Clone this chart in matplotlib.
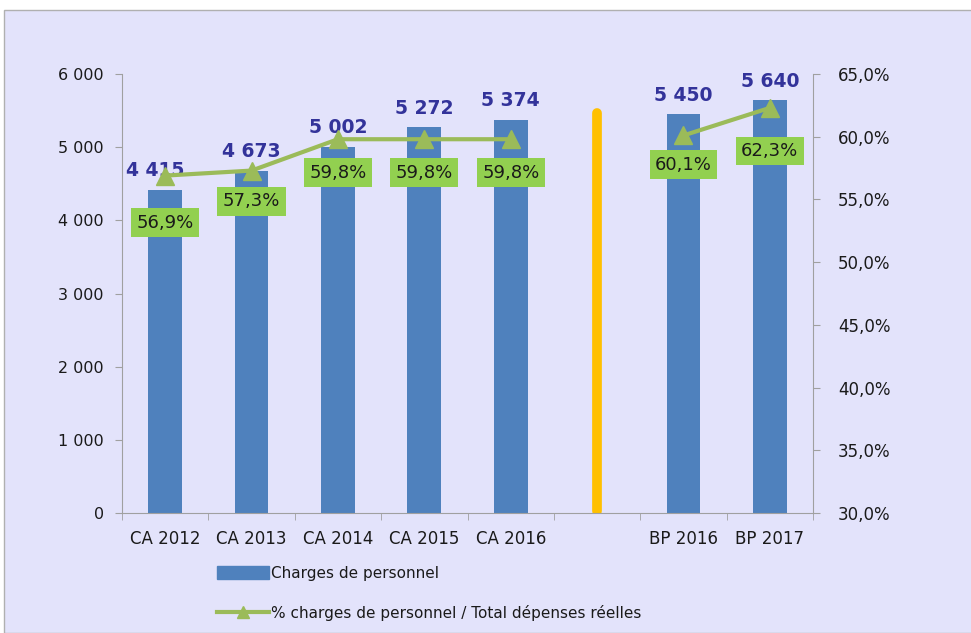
import numpy as np
import matplotlib.pyplot as plt
from matplotlib.patches import Rectangle, Patch
from matplotlib.lines import Line2D

# Données
categories = ['CA 2012', 'CA 2013', 'CA 2014', 'CA 2015', 'CA 2016', '', 'BP 2016', 'BP 2017']
charges = [4415, 4673, 5002, 5272, 5374, None, 5450, 5640]
ratio = [56.9, 57.3, 59.8, 59.8, 59.8, None, 60.1, 62.3]
separateur = 5470  # hauteur du trait jaune (slot vide)

bleu = '#4F81BD'
vert = '#9BBB59'
vert_label = '#92D050'
fond = '#E3E3FB'
texte_val = '#33339A'

plt.rcParams['font.family'] = ['DejaVu Sans']

fig = plt.figure(figsize=(9.71, 6.33), dpi=100)
fig.patch.set_facecolor('white')
fig.add_artist(Rectangle((4 / 971, 0), 1, 1 - 10 / 633, transform=fig.transFigure,
                         facecolor=fond, edgecolor='#B0B0B0', lw=1, zorder=0))

ax = fig.add_axes([122 / 971, 1 - 513 / 633, (813 - 122) / 971, (513 - 74) / 633])
ax.set_facecolor('none')
x = np.arange(len(categories))

# Barres
for i, v in enumerate(charges):
    if v is None:
        continue
    ax.bar(x[i], v, width=0.39, color=bleu, zorder=2)
    dx = -0.12 if i == 0 else 0
    ax.annotate(f'{v:,}'.replace(',', ' '), (x[i] + dx, v), xytext=(0, 7),
                textcoords='offset points', ha='center', va='bottom',
                fontsize=13.5, fontweight='bold', color=texte_val, zorder=5)

# Séparateur jaune
ax.plot([5, 5], [30, separateur], color='#FFC000', lw=7, solid_capstyle='round', zorder=2)

ax.set_xlim(-0.5, len(categories) - 0.5)
ax.set_ylim(0, 6000)
ax.set_yticks(range(0, 6001, 1000))
ax.set_yticklabels([f'{v:,}'.replace(',', ' ') for v in range(0, 6001, 1000)])
ax.set_xticks(x)
ax.set_xticklabels(categories)
ax.set_xticks(np.arange(-0.5, len(categories), 1), minor=True)
ax.tick_params(axis='x', which='major', length=0, pad=12, labelsize=12, labelcolor='#1A1A1A')
ax.tick_params(axis='x', which='minor', length=5, color='#A0A0A0')
ax.tick_params(axis='y', length=5, color='#A0A0A0', labelsize=11.5, pad=8, labelcolor='#1A1A1A')
for s in ['top', 'right']:
    ax.spines[s].set_visible(False)
for s in ['left', 'bottom']:
    ax.spines[s].set_color('#A0A0A0')

# Axe secondaire
ax2 = ax.twinx()
ax2.set_ylim(30, 65)
ax2.set_yticks(np.arange(30, 65.1, 5))
ax2.set_yticklabels([f'{v:.1f}%'.replace('.', ',') for v in np.arange(30, 65.1, 5)])
ax2.tick_params(axis='y', length=5, color='#A0A0A0', labelsize=12, pad=13, labelcolor='#1A1A1A')
for s in ['top', 'left', 'bottom']:
    ax2.spines[s].set_visible(False)
ax2.spines['right'].set_color('#A0A0A0')

r = np.array([np.nan if v is None else v for v in ratio])
ax2.plot(x, r, color=vert, lw=3, marker='^', markersize=13, zorder=4)

decal = [-34, -22, -24, -24, -24, 0, -21, -31]
for i, v in enumerate(ratio):
    if v is None:
        continue
    ax2.annotate(f'{v:.1f}%'.replace('.', ','), (x[i], v), xytext=(0, decal[i]),
                 textcoords='offset points', ha='center', va='center', fontsize=13,
                 color='#1A1A1A', zorder=6,
                 bbox=dict(boxstyle='square,pad=0.3', fc=vert_label, ec='none'))

# Légende
handles = [Patch(color=bleu, label='Charges de personnel'),
           Line2D([], [], color=vert, lw=3, marker='^', markersize=8,
                  label='% charges de personnel / Total dépenses réelles')]
leg = fig.legend(handles=handles, loc='upper left', bbox_to_anchor=(203 / 971, 1 - 552 / 633),
                 frameon=False, fontsize=11, labelspacing=1.6, handlelength=3.4,
                 handleheight=1.0, handletextpad=0.15)
for t in leg.get_texts():
    t.set_color('#1A1A1A')

fig.savefig('out.png', dpi=100)
